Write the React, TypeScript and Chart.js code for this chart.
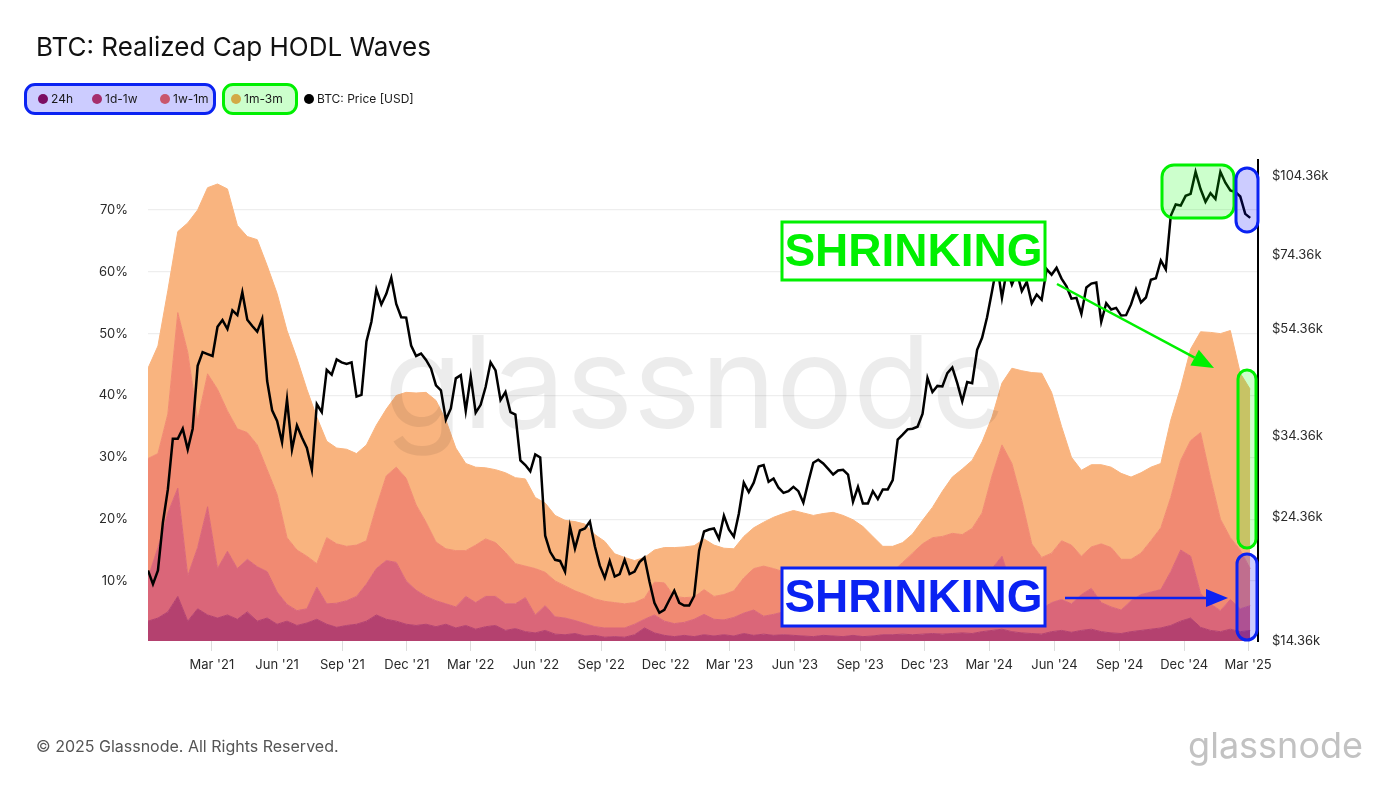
import React, { useEffect, useRef } from 'react';
import { Chart, registerables } from 'chart.js';

Chart.register(...registerables);

// ---- data -------------------------------------------------------------
// day 0 = 1 Dec 2020
const START_UTC = Date.UTC(2020, 11, 1);
const PRICE_STEP_DAYS = 7;
const WAVE_STEP_DAYS = 14;
const X_MAX_DAYS = 1565;

// BTC price, thousands of USD, weekly from 1 Dec 2020
const priceUsdK = [
  19.4, 18.3, 19.4, 23.8, 27.4,
  34.0, 34.0, 35.5, 32.5, 35.5, 46.4, 49.2, 48.8, 48.4, 54.8, 56.4, 54.3, 58.8,
  57.6, 63.5, 56.5, 55.0, 53.7, 56.7, 43.5, 38.4, 36.7, 33.5, 40.2, 32.5, 36.0,
  34.2, 32.7, 29.8, 39.4, 38.1, 45.6, 44.7, 47.7, 47.1, 46.8, 47.1, 40.7, 41.0,
  51.5, 56.0, 64.3, 60.3, 63.1, 67.6, 60.4, 57.1, 57.0, 50.6, 48.4, 48.9, 47.6,
  45.9, 42.7, 41.8, 36.9, 38.7, 44.0, 44.6, 38.3, 44.4, 38.0, 39.3, 42.4, 47.1,
  45.5, 40.1, 41.5, 38.1, 37.7, 31.0, 30.4, 29.6, 31.8, 31.4, 22.5, 21.0, 20.3,
  20.2, 19.3, 23.4, 21.3, 23.0, 23.2, 23.9, 21.5, 19.8, 18.8, 20.2, 18.9, 19.1,
  20.3, 19.1, 19.3, 20.1, 20.5, 18.5, 16.9, 16.2, 16.4, 17.1, 17.8, 16.9, 16.7,
  16.7, 17.4, 21.1, 22.9, 23.1, 23.2, 22.2, 24.5, 23.1, 22.4, 24.7, 28.2, 27.1,
  28.2, 30.2, 30.4, 28.3, 28.7, 27.6, 27.0, 27.2, 27.7, 27.2, 25.9, 28.3, 30.7,
  31.1, 30.6, 29.9, 29.2, 29.7, 29.8, 29.2, 26.0, 27.7, 25.8, 25.8, 27.2, 26.3,
  27.4, 27.4, 28.5, 33.9, 34.6, 35.4, 35.5, 35.8, 37.8, 44.1, 41.5, 42.6, 42.5,
  45.0, 46.1, 43.1, 39.9, 43.3, 43.1, 49.7, 52.3, 57.1, 63.8, 71.5, 62.0, 70.0,
  65.6, 69.1, 63.8, 66.4, 60.6, 62.9, 61.5, 70.1, 68.4, 70.5, 67.3, 65.1, 61.8,
  62.0, 57.9, 64.8, 65.9, 66.2, 56.0, 60.6, 59.0, 59.4, 57.5, 57.6, 60.3, 64.3,
  60.8, 62.1, 67.0, 67.4, 72.7, 70.0, 88.0, 92.3, 91.9, 95.8, 96.6, 106.1, 98.6, 93.4,
  96.9, 94.5, 106.1, 101.3, 98.0, 97.4, 95.5, 88.7, 87.2,
];

// Realized-cap share (%) of each age band, every 14 days from 1 Dec 2020
const wave24h = [
  3.5, 4, 5, 7.5, 3.5, 5.5, 4.5, 4, 4.5, 3.8,
  5, 3.5, 4, 3, 3.5, 2.8, 3.2, 3.8, 3, 2.5,
  2.8, 3, 3.5, 4.5, 3.8, 3.5, 3, 2.8, 3, 2.6,
  3, 2.4, 2.8, 2.2, 2.6, 2.8, 2, 2.3, 1.8, 1.6,
  2, 1.4, 1.3, 1.5, 1.1, 1.2, 0.9, 1, 0.9, 1.3,
  2.4, 1.6, 1.2, 1, 1.2, 1, 1.3, 1.1, 1.3, 1.1,
  1.5, 1.2, 1.4, 1.2, 1.3, 1.2, 1.1, 1, 1.2, 1.1,
  1, 1.2, 1, 1.1, 1.3, 1.3, 1.4, 1.3, 1.4, 1.5,
  1.4, 1.5, 1.6, 1.5, 1.8, 2, 2.2, 1.8, 1.6, 1.5,
  1.4, 1.8, 2, 1.7, 2, 2.2, 1.8, 1.6, 1.5, 1.8,
  2, 2.2, 2.4, 2.8, 3.5, 4, 2.5, 2, 1.8, 2.2,
  1.8, 2,
];
const wave1d1w = [
  7, 11.4, 16, 17.5, 7.3, 9.9, 17.5, 8, 10.3, 8.2,
  8.5, 8.8, 7.5, 5.2, 2.7, 2.4, 2.3, 5.2, 3.3, 3.9,
  4, 4.5, 6, 7.5, 9.5, 9.5, 7, 5.7, 4.5, 4.2,
  3.3, 3.4, 4.7, 4.3, 4.9, 4.7, 4.3, 4, 5.5, 2.9,
  4, 2.8, 2.7, 2.1, 2, 1.4, 1.5, 1.4, 1.5, 1.7,
  1.4, 2.9, 2.3, 2.1, 2.1, 2.8, 3.3, 2.7, 2.4, 3,
  3.3, 4.1, 2.9, 3.4, 3.7, 3.3, 2.9, 2.8, 2.8, 3.1,
  3, 2.6, 2.6, 2.7, 2.7, 3.2, 3.6, 4.2, 4.6, 5,
  5.4, 5.5, 5.4, 6, 7.2, 10, 11.8, 7.2, 5.4, 4.5,
  4.1, 4.7, 5, 4.6, 5.8, 6.6, 4.7, 4.2, 3.8, 5,
  5.8, 6, 6.2, 8.7, 11.5, 10, 5.5, 4.3, 3.4, 4.8,
  3.7, 4,
];
const wave1w1m = [
  19.3, 15.2, 16, 28.4, 36.2, 20.6, 21.5, 29, 22.7, 22.6,
  20.5, 19.7, 16.5, 15.8, 10.8, 9.8, 8.5, 3.8, 10.7, 9.6,
  8.8, 8.3, 7, 10, 13.7, 15.4, 16.6, 13.8, 12, 9.5,
  8.9, 9.1, 7.4, 9.3, 9.3, 8.7, 8.3, 6.5, 5.1, 7.5,
  5.4, 5.8, 5.2, 4.8, 4.7, 4.5, 4.3, 4.1, 3.9, 3.5,
  3.4, 5.3, 6.2, 4.4, 4, 3.6, 4, 3.7, 4.1, 4.3,
  5.7, 6.7, 8.1, 7.4, 6.5, 6.5, 6.5, 6.7, 6.8, 6.8,
  7, 7, 6.9, 7.2, 7, 7, 8, 9, 10, 10.5,
  10.4, 10.7, 10.5, 11, 12, 15, 18, 20, 16, 10,
  8.3, 8, 9.5, 9.5, 6.2, 6.7, 9.5, 9.6, 8.2, 6.7,
  6.7, 8.3, 10, 12, 14.5, 18.7, 26, 20.4, 14.8, 10,
  9.5, 6,
];
const wave1m3m = [
  14.6, 17.4, 20, 13.1, 20.9, 34, 30.1, 33.2, 35.9, 32.9,
  31.7, 33.2, 33, 32.5, 33.5, 31, 27, 23.7, 15.6, 15.5,
  15.7, 14.8, 15.5, 13.2, 10.8, 11.6, 13.9, 18.1, 21, 22.9,
  20.8, 16.6, 14.1, 12.6, 11.5, 11.8, 12.9, 13.9, 14.1, 11.5,
  11.2, 10.6, 10.6, 11.2, 11.4, 10.4, 9.7, 7.9, 7.5, 6.8,
  6.6, 5.2, 5.7, 7.9, 8.2, 8.3, 8.2, 8.3, 7.5, 6.8,
  6.7, 6.6, 7.1, 8.3, 9.4, 10.4, 10.5, 10.1, 10.1, 10.1,
  9.6, 9.1, 8.3, 6.2, 4.6, 4.1, 3.2, 3.1, 3.8, 4.9,
  7.3, 9.1, 10.6, 11, 11.5, 9.5, 10, 15.4, 21, 27.7,
  29.8, 26, 18.5, 14.2, 13.9, 13.3, 12.8, 13, 13.9, 13.3,
  13, 11.9, 10.4, 12.5, 11.8, 14.8, 16.3, 23.5, 30, 33.5,
  28.6, 29,
];

const pctTicks = [10, 20, 30, 40, 50, 60, 70];
const priceTicks = [14360, 24360, 34360, 54360, 74360, 104360];
const monthNames = ['Jan', 'Feb', 'Mar', 'Apr', 'May', 'Jun', 'Jul', 'Aug', 'Sep', 'Oct', 'Nov', 'Dec'];
const tickMonths = [2, 5, 8, 11];
const tickYears = [2021, 2022, 2023, 2024, 2025];

const seriesNames = ['24h', '1d-1w', '1w-1m', '1m-3m'];
const seriesColors = ['#b4416f', '#da6679', '#f18a72', '#f9b47f'];
const legendDotColors = ['#7b0d62', '#a62e6c', '#c9566c', '#d2aa45'];

// ---- helpers ----------------------------------------------------------
const dayOf = (y: number, m: number) => Math.round((Date.UTC(y, m, 1) - START_UTC) / 86400000);
const xTicks: { value: number; label: string }[] = [];
tickYears.forEach((y) =>
  tickMonths.forEach((m) => {
    const d = dayOf(y, m);
    if (d >= 0 && d <= X_MAX_DAYS) xTicks.push({ value: d, label: `${monthNames[m]} '${String(y).slice(2)}` });
  })
);
const toPoints = (arr: number[], step: number, mult = 1) => arr.map((v, i) => ({ x: i * step, y: v * mult }));

const FONT = 'Inter, "Noto Sans", "DejaVu Sans", sans-serif';

function drawArrow(ctx: CanvasRenderingContext2D, x1: number, y1: number, x2: number, y2: number, color: string) {
  const a = Math.atan2(y2 - y1, x2 - x1);
  const hl = 22;
  const hw = 9;
  const bx = x2 - hl * Math.cos(a);
  const by = y2 - hl * Math.sin(a);
  ctx.save();
  ctx.strokeStyle = color;
  ctx.lineWidth = 2.5;
  ctx.beginPath();
  ctx.moveTo(x1, y1);
  ctx.lineTo(bx, by);
  ctx.stroke();
  ctx.fillStyle = color;
  ctx.beginPath();
  ctx.moveTo(x2, y2);
  ctx.lineTo(bx + hw * Math.sin(a), by - hw * Math.cos(a));
  ctx.lineTo(bx - hw * Math.sin(a), by + hw * Math.cos(a));
  ctx.closePath();
  ctx.fill();
  ctx.restore();
}

function highlight(ctx: CanvasRenderingContext2D, x: number, y: number, w: number, h: number, r: number, fill: string, stroke: string) {
  ctx.save();
  ctx.beginPath();
  (ctx as any).roundRect(x, y, w, h, r);
  ctx.fillStyle = fill;
  ctx.fill();
  ctx.lineWidth = 3;
  ctx.strokeStyle = stroke;
  ctx.stroke();
  ctx.restore();
}

function labelBox(ctx: CanvasRenderingContext2D, x: number, y: number, w: number, h: number, text: string, color: string) {
  ctx.save();
  ctx.fillStyle = '#ffffff';
  ctx.fillRect(x, y, w, h);
  ctx.lineWidth = 3;
  ctx.strokeStyle = color;
  ctx.strokeRect(x, y, w, h);
  ctx.fillStyle = color;
  ctx.font = 'bold 46px "Liberation Sans", Arial, sans-serif';
  ctx.textAlign = 'center';
  ctx.textBaseline = 'middle';
  ctx.fillText(text, x + w / 2, y + h / 2 + 2);
  ctx.restore();
}

const GREEN = '#00f000';
const BLUE = '#0a22f2';

const overlayPlugin = {
  id: 'overlay',
  afterDatasetDraw(chart: any, args: any) {
    if (args.index !== 1) return;
    const ctx = chart.ctx as CanvasRenderingContext2D;
    ctx.save();
    ctx.font = `400 128px ${FONT}`;
    ctx.fillStyle = 'rgba(0,0,0,0.075)';
    ctx.textAlign = 'center';
    ctx.textBaseline = 'alphabetic';
    ctx.fillText('glassnode', 695, 428);
    ctx.restore();
  },
  afterDraw(chart: any) {
    const ctx = chart.ctx as CanvasRenderingContext2D;
    labelBox(ctx, 782, 222, 263, 58, 'SHRINKING', GREEN);
    labelBox(ctx, 782, 568, 263, 58, 'SHRINKING', BLUE);
    drawArrow(ctx, 1057, 284, 1214, 368, GREEN);
    drawArrow(ctx, 1065, 598, 1228, 598, BLUE);
    highlight(ctx, 1162, 165, 72, 53, 12, 'rgba(0,255,0,0.2)', GREEN);
    highlight(ctx, 1236, 168, 22, 64, 11, 'rgba(0,0,255,0.2)', BLUE);
    highlight(ctx, 1238, 370, 18, 178, 9, 'rgba(0,255,0,0.2)', GREEN);
    highlight(ctx, 1237, 554, 20, 86, 10, 'rgba(0,0,255,0.2)', BLUE);
  },
};

function ChartCanvas() {
  const ref = useRef<HTMLCanvasElement | null>(null);
  useEffect(() => {
    if (!ref.current) return;
    const waves = [wave24h, wave1d1w, wave1w1m, wave1m3m];
    const chart = new Chart(ref.current, {
      type: 'line',
      data: {
        datasets: [
          {
            label: 'BTC: Price [USD]',
            data: toPoints(priceUsdK, PRICE_STEP_DAYS, 1000),
            yAxisID: 'y1',
            borderColor: '#000000',
            borderWidth: 2.5,
            pointRadius: 0,
            fill: false,
            tension: 0,
          },
          ...waves.map((w, i) => ({
            label: seriesNames[i],
            data: toPoints(w, WAVE_STEP_DAYS),
            yAxisID: 'y',
            borderColor: seriesColors[i],
            backgroundColor: seriesColors[i],
            borderWidth: 1,
            pointRadius: 0,
            tension: 0,
            fill: i === 0 ? 'origin' : '-1',
          })),
        ] as any,
      },
      options: {
        animation: false,
        responsive: false,
        devicePixelRatio: 1,
        events: [],
        layout: { padding: { top: 160, left: 0, right: 0, bottom: 0 } },
        plugins: { legend: { display: false }, tooltip: { enabled: false }, title: { display: false } },
        scales: {
          x: {
            type: 'linear',
            min: 0,
            max: X_MAX_DAYS,
            afterFit: (s: any) => { s.height = 147; },
            afterBuildTicks: (s: any) => { s.ticks = xTicks.map((t) => ({ value: t.value })); },
            ticks: {
              autoSkip: false,
              maxRotation: 0,
              padding: 6,
              color: '#2a2a2a',
              font: { size: 13, family: FONT },
              callback: (v: any) => (xTicks.find((t) => t.value === v) || { label: '' }).label,
            },
            grid: { drawOnChartArea: false, drawTicks: true, tickLength: 10, color: '#dddddd' },
            border: { display: false },
          },
          y: {
            type: 'linear',
            position: 'left',
            stacked: true,
            min: 0.29,
            max: 78.08,
            afterFit: (s: any) => { s.width = 148; },
            afterBuildTicks: (s: any) => { s.ticks = pctTicks.map((v) => ({ value: v })); },
            ticks: {
              padding: 20,
              color: '#2a2a2a',
              font: { size: 13, family: FONT },
              callback: (v: any) => `${v}%`,
            },
            grid: { color: '#eeeeee', drawTicks: false, lineWidth: 1.2 },
            border: { display: false },
          },
          y1: {
            type: 'logarithmic',
            position: 'right',
            min: 14360,
            max: 111600,
            afterFit: (s: any) => { s.width = 142; },
            afterBuildTicks: (s: any) => { s.ticks = priceTicks.map((v) => ({ value: v })); },
            ticks: {
              padding: 14,
              color: '#2a2a2a',
              font: { size: 13, family: FONT },
              callback: (v: any) => `$${(Number(v) / 1000).toFixed(2)}k`,
            },
            grid: { display: false, drawTicks: false },
            border: { display: true, color: '#000000', width: 2 },
          },
        },
      } as any,
      plugins: [overlayPlugin],
    });
    return () => chart.destroy();
  }, []);
  return <canvas ref={ref} width={1400} height={788} style={{ position: 'absolute', left: 0, top: 0, width: 1400, height: 788 }} />;
}

const legendItems = [
  { label: seriesNames[0], color: legendDotColors[0], dotX: 43, textX: 51 },
  { label: seriesNames[1], color: legendDotColors[1], dotX: 97, textX: 105 },
  { label: seriesNames[2], color: legendDotColors[2], dotX: 165, textX: 173 },
  { label: seriesNames[3], color: legendDotColors[3], dotX: 236, textX: 244 },
  { label: 'BTC: Price [USD]', color: '#000000', dotX: 309, textX: 317 },
];

export default function App() {
  return (
    <div style={{ position: 'absolute', left: 0, top: 0, width: 1400, height: 788, background: '#ffffff', fontFamily: FONT, overflow: 'hidden' }}>
      <ChartCanvas />
      <div style={{ position: 'absolute', left: 36, top: 34, fontSize: 26, lineHeight: '26px', color: '#111111', whiteSpace: 'nowrap' }}>
        BTC: Realized Cap HODL Waves
      </div>
      <div style={{ position: 'absolute', left: 24, top: 83, width: 192, height: 32, boxSizing: 'border-box', border: `3px solid ${BLUE}`, borderRadius: 11, background: '#ccccff' }} />
      <div style={{ position: 'absolute', left: 222, top: 83, width: 76, height: 32, boxSizing: 'border-box', border: `3px solid ${GREEN}`, borderRadius: 11, background: '#ccffcc' }} />
      {legendItems.map((it) => (
        <React.Fragment key={it.label}>
          <div style={{ position: 'absolute', left: it.dotX - 5, top: 93.5, width: 10, height: 10, borderRadius: 5, background: it.color }} />
          <div style={{ position: 'absolute', left: it.textX, top: 92.5, fontSize: 12, lineHeight: '12px', color: '#1a1a1a', whiteSpace: 'nowrap' }}>{it.label}</div>
        </React.Fragment>
      ))}
      <div style={{ position: 'absolute', left: 36, top: 738, fontSize: 16, lineHeight: '16px', color: '#555555', whiteSpace: 'nowrap' }}>
        © 2025 Glassnode. All Rights Reserved.
      </div>
      <div style={{ position: 'absolute', right: 37, top: 727, fontSize: 36, lineHeight: '36px', color: '#c2c2c2', whiteSpace: 'nowrap', fontWeight: 400 }}>
        glassnode
      </div>
    </div>
  );
}
